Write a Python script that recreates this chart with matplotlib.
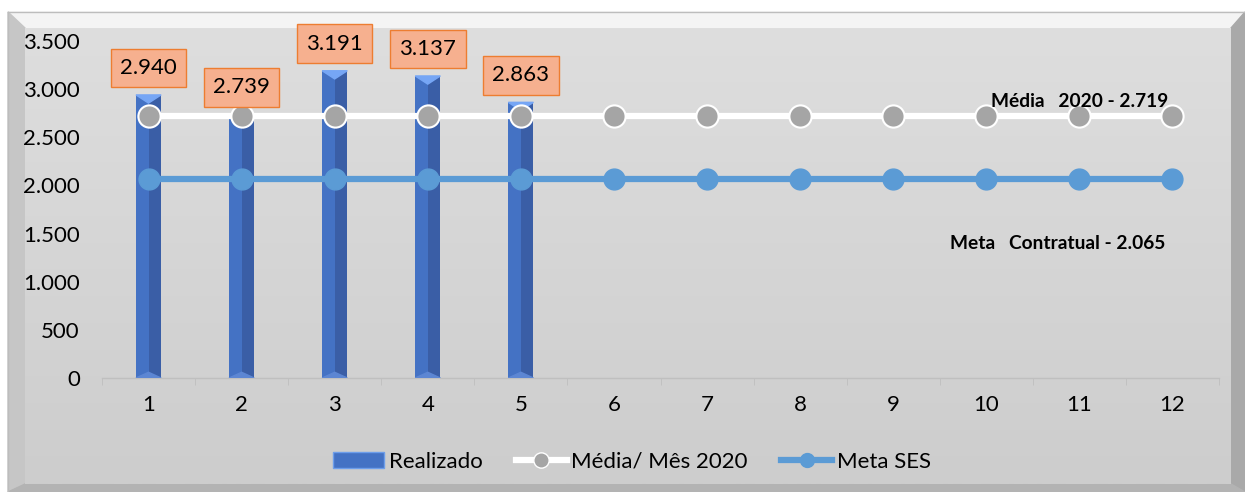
import numpy as np
import matplotlib
matplotlib.use('Agg')
import matplotlib.pyplot as plt
from matplotlib.patches import Polygon, Patch
from matplotlib.lines import Line2D

plt.rcParams['font.family'] = ['Lato', 'DejaVu Sans']

# dados
meses = [1, 2, 3, 4, 5, 6, 7, 8, 9, 10, 11, 12]
realizado = [2940, 2739, 3191, 3137, 2863]
media_2020 = [2719] * 12
meta_ses = [2065] * 12
rotulos = ['2.940', '2.739', '3.191', '3.137', '2.863']
yticks = [0, 500, 1000, 1500, 2000, 2500, 3000, 3500]
ytick_labels = ['0', '500', '1.000', '1.500', '2.000', '2.500', '3.000', '3.500']

W, H = 1245, 492
fig = plt.figure(figsize=(W / 100, H / 100), dpi=100)
fig.patch.set_facecolor('white')

# moldura com chanfro (coordenadas em pixels)
bg = fig.add_axes([0, 0, 1, 1], zorder=-5)
bg.set_xlim(0, W)
bg.set_ylim(H, 0)
bg.axis('off')
bg.add_patch(Polygon([(8, 12), (W, 12), (1231, 28), (25, 28)], color='#F4F4F4'))
bg.add_patch(Polygon([(8, 12), (25, 28), (25, 484), (8, H)], color='#C6C6C6'))
bg.add_patch(Polygon([(W, 12), (W, H), (1231, 484), (1231, 28)], color='#A9A9A9'))
bg.add_patch(Polygon([(8, H), (25, 484), (1231, 484), (W, H)], color='#B3B3B3'))
grad = np.linspace(0, 1, 256).reshape(-1, 1)
bg.imshow(grad, extent=(25, 1231, 484, 28), aspect='auto',
          cmap=matplotlib.colors.LinearSegmentedColormap.from_list('g', ['#DEDEDE', '#CDCDCD']),
          zorder=1)
bg.plot([8, W], [12, 12], color='#BDBDBD', lw=1)
bg.plot([8, 8], [12, H], color='#BDBDBD', lw=1)

ax = fig.add_axes([102 / W, 1 - 378 / H, (1219 - 102) / W, (378 - 41) / H])
ax.set_facecolor('none')
ax.set_xlim(0.5, 12.5)
ax.set_ylim(0, 3500)

# barras com efeito 3D
w = 0.27
xr = np.array(meses[:len(realizado)])
ax.bar(xr - w / 4, realizado, w / 2, color='#4472C4', zorder=2)
ax.bar(xr + w / 4, realizado, w / 2, color='#3A5EA6', zorder=2)
cap = 85
for x, v in zip(xr, realizado):
    ax.add_patch(Polygon([(x - w / 2, v), (x + w / 2, v), (x, v - cap)],
                         color='#76A6F5', zorder=3))
    ax.add_patch(Polygon([(x - w / 2, 0), (x + w / 2, 0), (x, cap * 0.7)],
                         color='#5C86D3', zorder=3))

# linhas
ax.plot(meses, media_2020, color='white', lw=4.5, marker='o', ms=16,
        mfc='#A5A5A5', mec='white', mew=1.5, zorder=4)
ax.plot(meses, meta_ses, color='#5B9BD5', lw=4.5, marker='o', ms=15,
        mfc='#5B9BD5', mec='#5B9BD5', zorder=4)

# rótulos de dados
for x, v, t in zip(xr, realizado, rotulos):
    ax.annotate(t, (x, v), xytext=(0, 19.5), textcoords='offset points',
                ha='center', va='center', fontsize=16, color='black', zorder=6,
                annotation_clip=False,
                bbox=dict(boxstyle='square,pad=0.42', fc='#F6B08F', ec='#ED7D31', lw=1))

ax.text(11.0, 2870, 'Média   2020 - 2.719', ha='center', va='center',
        fontsize=13.8, fontweight='bold', zorder=6)
ax.text(10.77, 1400, 'Meta   Contratual - 2.065', ha='center', va='center',
        fontsize=13.8, fontweight='bold', zorder=6)

# eixos
for s in ['top', 'right', 'left']:
    ax.spines[s].set_visible(False)
ax.spines['bottom'].set_color('#BFBFBF')
ax.spines['bottom'].set_linewidth(1)
ax.set_xticks(meses)
ax.set_xticklabels([str(m) for m in meses], fontsize=16)
ax.set_xticks(np.arange(0.5, 13, 1), minor=True)
ax.tick_params(axis='x', which='major', length=0, pad=12)
ax.tick_params(axis='x', which='minor', length=5, color='#BFBFBF')
ax.set_yticks(yticks)
ax.set_yticklabels(ytick_labels, fontsize=16)
ax.tick_params(axis='y', length=0, pad=16)

# legenda
handles = [
    Patch(facecolor='#4472C4', edgecolor='#6D9EEB'),
    Line2D([0], [0], color='white', lw=4.5, marker='o', ms=11, mfc='#A5A5A5', mec='white'),
    Line2D([0], [0], color='#5B9BD5', lw=4.5, marker='o', ms=10, mfc='#5B9BD5', mec='#5B9BD5'),
]
leg = fig.legend(handles, ['Realizado', 'Média/ Mês 2020', 'Meta SES'],
                 loc='center', bbox_to_anchor=(632 / W, 1 - 462 / H), ncol=3,
                 frameon=False, fontsize=16, handlelength=2.3, handletextpad=0.2,
                 columnspacing=1.5)

fig.savefig('out.png', dpi=100)
